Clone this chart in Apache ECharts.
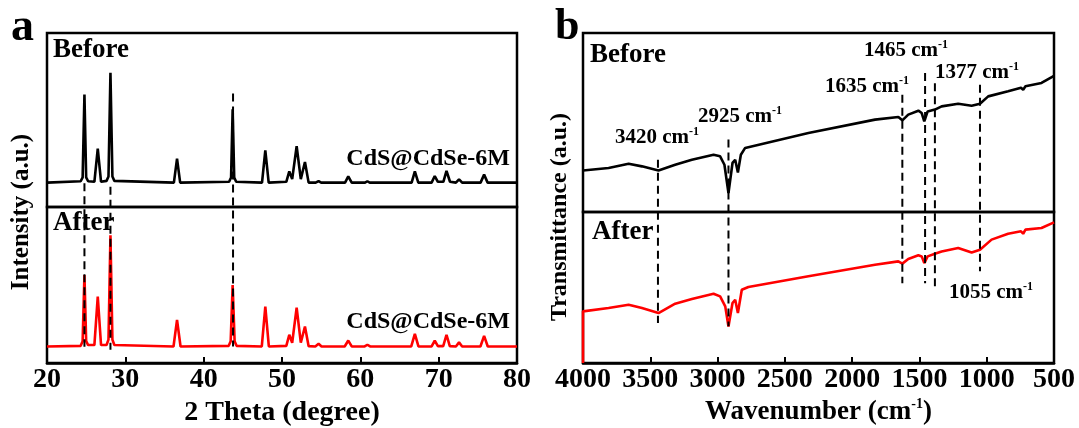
<!DOCTYPE html>
<html><head><meta charset="utf-8">
<script src="https://cdn.jsdelivr.net/npm/echarts@6/dist/echarts.min.js"></script>
<style>html,body{margin:0;padding:0;background:#fff}#c{width:1079px;height:428px}</style>
</head><body><div id="c"></div>
<script>
// ---------- Panel a : XRD (2 theta in degree, intensity in a.u.) ----------
const xrdTicks = [20, 30, 40, 50, 60, 70, 80];
const xrdBefore = [
  [20,14],[24.3,14.8],[24.55,17],[24.78,64.6],[25.0,17],[25.25,14.8],[26.05,14.5],[26.48,33.6],[26.9,14.5],
  [27.6,15],[27.85,17.5],[28.1,77.2],[28.35,17.5],[28.6,15],[36.2,14],[36.6,27.8],[37.0,14],
  [43.25,14.5],[43.5,17],[43.7,56.1],[43.9,17],[44.15,14.5],[47.45,14],[47.87,32.6],[48.3,14],
  [50.55,14.5],[50.93,20.5],[51.3,16],[51.87,34.9],[52.4,16],[52.93,25.9],[53.4,14],
  [54.3,14],[54.67,14.9],[55.0,14],[58.05,14],[58.46,17.6],[58.9,14],
  [60.6,14],[60.9,14.8],[61.2,14],[66.55,14],[66.96,20.5],[67.4,14],
  [69.1,14],[69.5,17.8],[69.9,14.5],[70.6,14.5],[71.0,20.7],[71.45,14.5],
  [72.2,14],[72.6,15.9],[73.0,14],[75.35,14],[75.8,18.6],[76.25,14],[80,14]
];
const xrdAfter = [
  [20,10.6],[24.3,11],[24.55,14],[24.78,56.4],[25.0,14],[25.25,11.5],[26.05,11.5],[26.48,42.5],[26.9,11.5],
  [27.6,11.5],[27.85,15],[28.1,81.9],[28.35,15],[28.6,11.5],[36.15,10.6],[36.6,27.6],[37.05,10.6],
  [43.2,11],[43.45,14],[43.7,50],[43.95,14],[44.2,11],[47.42,10.6],[47.87,36.1],[48.32,10.6],
  [50.55,11],[50.93,18.1],[51.3,13],[51.87,35.5],[52.4,13],[52.93,23.4],[53.4,10.8],
  [54.25,10.6],[54.67,12.3],[55.05,10.6],[58.0,10.6],[58.46,14.4],[58.9,10.6],
  [60.55,10.6],[60.9,11.7],[61.25,10.6],[66.5,10.6],[66.96,18.7],[67.42,10.6],
  [69.1,10.6],[69.5,14.4],[69.9,10.8],[70.58,10.8],[71.0,18.1],[71.42,10.8],
  [72.2,10.6],[72.6,13.2],[73.0,10.6],[75.33,10.6],[75.8,17.4],[76.27,10.6],[80,10.6]
];
// reference dashed lines (position, top, bottom) on the full-height panel scale 0..100
const xrdRefPos = [24.78, 28.1, 43.75];
const xrdRefTop = [54.5, 53.4, 81.7];
const xrdRefBottom = [4.9, 4.0, 5.0];

// ---------- Panel b : FTIR (wavenumber cm-1, transmittance a.u.) ----------
const ftirTicks = [4000, 3500, 3000, 2500, 2000, 1500, 1000, 500];
const ftirBefore = [
  [4000,23.2],[3810,24.6],[3661,27.0],[3562,25.5],[3439,23.2],[3315,26.4],[3191,29.2],
  [3030,32.0],[2981,31.1],[2949,26.4],[2919,10.6],[2889,27.4],[2869,29.2],[2849,22.1],
  [2827,32.0],[2795,35.8],[2325,44.1],[1830,51.6],[1657,53.1],[1627,51.2],[1583,54.4],
  [1508,56.6],[1483,55.3],[1464,50.6],[1439,56.2],[1385,57.2],[1372,56.2],[1335,59.0],
  [1212,60.5],[1112,59.4],[1050,60.5],[989,64.6],[841,67.4],[745,69.4],[729,68.3],
  [712,70.2],[593,72.1],[500,76.1]
];
const ftirAfter = [
  [4000,0],[4000,34.2],[3810,36.4],[3661,38.6],[3562,36.4],[3439,33.1],[3315,39.3],
  [3191,42.4],[3030,45.9],[2981,44.1],[2943,37.5],[2919,24.2],[2889,39.7],[2869,41.9],
  [2849,33.1],[2820,48.5],[2771,50.3],[2325,57.4],[1830,65.1],[1657,67.3],[1627,65.8],
  [1583,68.9],[1508,71.3],[1483,70.6],[1464,66.2],[1439,70.6],[1385,72.4],[1335,73.9],
  [1212,76.2],[1112,73.2],[1050,75.0],[964,81.7],[841,85.6],[745,87.2],[729,85.6],
  [712,88.3],[593,89.4],[500,93.1]
];
const ftirBandPos = [3443, 2919, 1627, 1458, 1385, 1050];
const ftirBandTop = [61.6, 67.7, 81.3, 87.9, 84.8, 84.3];
const ftirBandBottom = [12.1, 11.1, 24.2, 24.2, 22.2, 27.8];
const ftirBandLabels = ['3420', '2925', '1635', '1465', '1377', '1055'];

// ---------- chart ----------
const F = "'Liberation Serif','Times New Roman',serif";
const chart = echarts.init(document.getElementById('c'), null, {renderer: 'canvas'});
const boxGrid = (o) => Object.assign({show: true, borderColor: '#000', borderWidth: 2.5, backgroundColor: 'transparent'}, o);
const hiddenX = (g, min, max, inv) => ({gridIndex: g, type: 'value', min, max, inverse: !!inv, show: false});
const hiddenY = (g) => ({gridIndex: g, type: 'value', min: 0, max: 100, show: false});
const labelStyle = {fontFamily: F, fontWeight: 'bold', fontSize: 28, color: '#000', margin: 3,
  formatter: (v) => String(v)};
const tickStyle = {show: true, inside: true, length: 6, lineStyle: {color: '#000', width: 2}};
const supRich = (size, sup) => ({
  t: {fontFamily: F, fontWeight: 'bold', fontSize: size, color: '#000', lineHeight: size + 3},
  s: {fontFamily: F, fontWeight: 'bold', fontSize: sup, color: '#000', verticalAlign: 'top', lineHeight: sup}
});

const series = [];
series.push({type: 'line', xAxisIndex: 0, yAxisIndex: 0, data: xrdBefore, showSymbol: false,
  lineStyle: {color: '#000', width: 2.6}, silent: true});
series.push({type: 'line', xAxisIndex: 1, yAxisIndex: 1, data: xrdAfter, showSymbol: false,
  lineStyle: {color: '#ff0000', width: 2.6}, silent: true});
xrdRefPos.forEach((p, i) => series.push({type: 'line', xAxisIndex: 2, yAxisIndex: 2,
  data: [[p, xrdRefTop[i]], [p, xrdRefBottom[i]]], showSymbol: false, z: 5,
  lineStyle: {color: '#000', width: 2, type: [8, 5]}, silent: true}));
series.push({type: 'line', xAxisIndex: 3, yAxisIndex: 3, data: ftirBefore, showSymbol: false,
  lineStyle: {color: '#000', width: 2.6}, silent: true});
series.push({type: 'line', xAxisIndex: 4, yAxisIndex: 4, data: ftirAfter, showSymbol: false,
  lineStyle: {color: '#ff0000', width: 2.6}, silent: true});
ftirBandPos.forEach((p, i) => series.push({type: 'line', xAxisIndex: 5, yAxisIndex: 5,
  data: [[p, ftirBandTop[i]], [p, ftirBandBottom[i]]], showSymbol: false, z: 5,
  lineStyle: {color: '#000', width: 2, type: [8, 5]}, silent: true}));

const txt = (x, y, text, size, align) => ({type: 'text', x, y, silent: true,
  style: {text, fontFamily: F, fontWeight: 'bold', fontSize: size, fill: '#000',
    align: align || 'left', verticalAlign: 'middle'}});
const supTxt = (x, y, main, sup) => ({type: 'text', x, y, silent: true,
  style: {text: '{t|' + main + '}{s|' + sup + '}', rich: supRich(21, 12),
    align: 'left', verticalAlign: 'middle'}});
const bandLabelPos = [[615, 138], [698, 117], [825, 87], [864, 51], [935, 73], [949, 293]];

const graphic = [
  txt(11, 28, 'a', 46), txt(555, 28, 'b', 44),
  txt(53, 50, 'Before', 27), txt(53, 223, 'After', 27),
  txt(510, 159, 'CdS@CdSe-6M', 24, 'right'), txt(510, 322, 'CdS@CdSe-6M', 24, 'right'),
  txt(590, 55, 'Before', 27), txt(592, 232, 'After', 27),
  {type: 'text', x: 22, y: 212, rotation: Math.PI / 2, silent: true,
    style: {text: 'Intensity (a.u.)', fontFamily: F, fontWeight: 'bold', fontSize: 25, fill: '#000', align: 'center', verticalAlign: 'middle'}},
  {type: 'text', x: 560, y: 217, rotation: Math.PI / 2, silent: true,
    style: {text: 'Transmittance (a.u.)', fontFamily: F, fontWeight: 'bold', fontSize: 24, fill: '#000', align: 'center', verticalAlign: 'middle'}}
];
ftirBandLabels.forEach((l, i) => graphic.push(supTxt(bandLabelPos[i][0], bandLabelPos[i][1], l + ' cm', '-1')));

chart.setOption({
  animation: false,
  backgroundColor: '#fff',
  grid: [
    boxGrid({left: 47, right: 562, top: 33, height: 174}),
    boxGrid({left: 47, right: 562, top: 207, height: 156}),
    {left: 47, right: 562, top: 33, height: 330, show: false},
    boxGrid({left: 583, right: 25, top: 33, height: 179}),
    boxGrid({left: 583, right: 25, top: 212, height: 151}),
    {left: 583, right: 25, top: 33, height: 330, show: false}
  ],
  xAxis: [
    hiddenX(0, xrdTicks[0], xrdTicks[xrdTicks.length - 1]),
    {gridIndex: 1, type: 'value', min: xrdTicks[0], max: xrdTicks[xrdTicks.length - 1], interval: xrdTicks[1] - xrdTicks[0],
      axisLine: {show: true, lineStyle: {color: '#000', width: 2.5}}, axisTick: tickStyle,
      axisLabel: labelStyle, splitLine: {show: false},
      name: '2 Theta (degree)', nameLocation: 'middle', nameGap: 36,
      nameTextStyle: {fontFamily: F, fontWeight: 'bold', fontSize: 28, color: '#000'}},
    hiddenX(2, xrdTicks[0], xrdTicks[xrdTicks.length - 1]),
    hiddenX(3, ftirTicks[ftirTicks.length - 1], ftirTicks[0], true),
    {gridIndex: 4, type: 'value', min: ftirTicks[ftirTicks.length - 1], max: ftirTicks[0], inverse: true,
      interval: ftirTicks[0] - ftirTicks[1],
      axisLine: {show: true, lineStyle: {color: '#000', width: 2.5}}, axisTick: tickStyle,
      axisLabel: labelStyle, splitLine: {show: false},
      name: '{t|Wavenumber (cm}{s|-1}{t|)}', nameLocation: 'middle', nameGap: 34,
      nameTextStyle: {rich: supRich(27, 14)}},
    hiddenX(5, ftirTicks[ftirTicks.length - 1], ftirTicks[0], true)
  ],
  yAxis: [hiddenY(0), hiddenY(1), hiddenY(2), hiddenY(3), hiddenY(4), hiddenY(5)],
  series,
  graphic
});
</script></body></html>
